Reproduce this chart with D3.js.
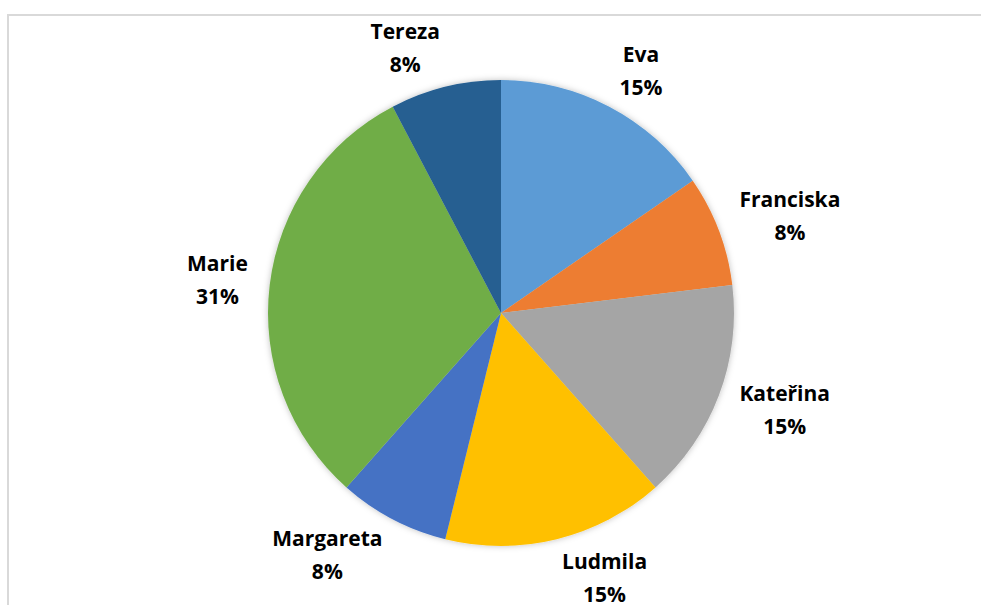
<!DOCTYPE html>
<html>
<head>
<meta charset="utf-8" />
<title>Pie</title>
<style type="text/css">
  html, body { margin: 0; background: #fff; }
  svg { display: block; }
  .lbl { font-family: "Open Sans", sans-serif; font-weight: bold; font-size: 21px; fill: #000; }
</style>
</head>
<body>
<div id="container"></div>
<script src="https://cdn.jsdelivr.net/npm/d3@7"></script>
<script>
// chart data
var names = ["Eva", "Franciska", "Kateřina", "Ludmila", "Margareta", "Marie", "Tereza"];
var counts = [2, 1, 2, 2, 1, 4, 1];
var colors = ["#5b9bd5", "#ed7d31", "#a5a5a5", "#ffc000", "#4472c4", "#70ad47", "#255e91"];

var width = 981, height = 605;
var cx = 501, cy = 313, r = 233;

var svg = d3.select("#container").append("svg")
    .attr("width", width)
    .attr("height", height);

// chart area border
svg.append("rect")
    .attr("x", 8).attr("y", 15)
    .attr("width", width + 10).attr("height", height + 10)
    .attr("fill", "#fff")
    .attr("stroke", "#d9d9d9")
    .attr("stroke-width", 2);

var defs = svg.append("defs");
var f = defs.append("filter").attr("id", "shadow")
    .attr("x", "-10%").attr("y", "-10%").attr("width", "120%").attr("height", "120%");
f.append("feDropShadow")
    .attr("dx", 0).attr("dy", 0)
    .attr("stdDeviation", 3)
    .attr("flood-color", "#000")
    .attr("flood-opacity", 0.25);

var total = d3.sum(counts);
var pie = d3.pie().sort(null).value(function(d) { return d; });
var arcs = pie(counts);
var arc = d3.arc().innerRadius(0).outerRadius(r);

var g = svg.append("g").attr("transform", "translate(" + cx + "," + cy + ")");

g.append("g").attr("filter", "url(#shadow)")
  .selectAll("path")
  .data(arcs)
  .enter().append("path")
    .attr("d", arc)
    .attr("fill", function(d, i) { return colors[i]; });

var fmt = d3.format(".0%");
var lineH = 33;

var labels = g.selectAll("g.lab")
  .data(arcs)
  .enter().append("g")
    .attr("class", "lab");

// outside-end labels: box sits beside the point where the slice middle meets the rim
labels.each(function(d, i) {
  var sel = d3.select(this);
  var t1 = sel.append("text").attr("class", "lbl")
      .attr("text-anchor", "middle")
      .attr("y", -lineH / 2)
      .attr("dy", "0.35em")
      .text(names[i]);
  var t2 = sel.append("text").attr("class", "lbl")
      .attr("text-anchor", "middle")
      .attr("y", lineH / 2)
      .attr("dy", "0.35em")
      .text(fmt(counts[i] / total));
  var w = Math.max(t1.node().getComputedTextLength(), t2.node().getComputedTextLength()) / 2;
  var a = (d.startAngle + d.endAngle) / 2;
  var s = Math.sin(a), c = -Math.cos(a);
  var ax = s * r, ay = c * r;
  var x = ax + Math.sign(s) * (w + 22 * Math.abs(s));
  var y = ay + c * 40;
  sel.attr("transform", "translate(" + x + "," + y + ")");
});
</script>
</body>
</html>
